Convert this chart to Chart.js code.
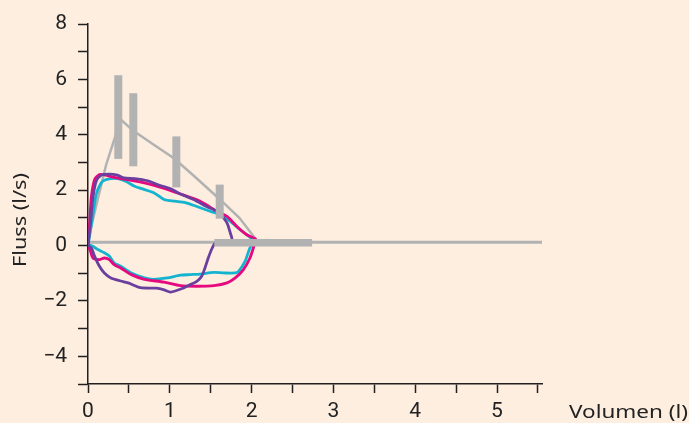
<!DOCTYPE html>
<html>
<head>
<meta charset="utf-8">
<script src="https://cdn.jsdelivr.net/npm/chart.js@4/dist/chart.umd.min.js"></script>
<style>
  html, body { margin: 0; padding: 0; background: #fdeee0; }
  #wrap { width: 689px; height: 423px; }
</style>
</head>
<body>
<div id="wrap"><canvas id="flowChart" width="689" height="423"></canvas></div>
<script>
// axes
const xTickValues = [0, 0.5, 1, 1.5, 2, 2.5, 3, 3.5, 4, 4.5, 5, 5.5];
const xTickLabels = ['0', '', '1', '', '2', '', '3', '', '4', '', '5', ''];
const yTickValues = [-5, -4, -3, -2, -1, 0, 1, 2, 3, 4, 5, 6, 7, 8];
const yTickLabels = ['', '−4', '', '−2', '', '0', '', '2', '', '4', '', '6', '', '8'];
const xTitle = 'Volumen (l)';
const yTitle = 'Fluss (l/s)';

// predicted curve (grey)
const sollX = [0, 0.065, 0.22, 0.4, 0.55, 0.8, 1.05, 1.3, 1.6, 1.85, 2.06];
const sollY = [0.12, 1.0, 2.9, 4.55, 4.15, 3.65, 3.15, 2.5, 1.7, 1.0, 0.2];
const nullX = [0, 5.55];
const nullY = [0.12, 0.12];

// ranges (thick grey bars)
const barX = [0.37, 0.554, 1.08, 1.61];
const barLow = [3.13, 2.86, 2.1, 0.97];
const barHigh = [6.15, 5.5, 3.94, 2.2];
const hBarX = [1.544, 2.74];
const hBarY = 0.1;

// measured loops
const magentaX = [0, 0.02, 0.04, 0.08, 0.14, 0.22, 0.32, 0.48, 0.69, 0.89, 1.13, 1.37, 1.58, 1.7, 1.82, 1.94, 2.05,
  2.03, 1.98, 1.9, 1.8, 1.7, 1.54, 1.33, 1.13, 0.93, 0.69, 0.53, 0.4, 0.32, 0.26, 0.2, 0.14, 0.06, 0.03, 0];
const magentaY = [0, 0.8, 1.72, 2.38, 2.56, 2.54, 2.46, 2.38, 2.26, 2.1, 1.86, 1.6, 1.23, 1.05, 0.69, 0.39, 0.23,
  0, -0.45, -0.87, -1.17, -1.35, -1.45, -1.47, -1.45, -1.32, -1.22, -1.05, -0.81, -0.69, -0.51, -0.45, -0.51, -0.45, -0.2, 0];

const cyanX = [0, 0.06, 0.1, 0.16, 0.22, 0.36, 0.46, 0.57, 0.69, 0.81, 0.93, 1.06, 1.18, 1.33, 1.5, 1.62, 1.74, 1.86, 1.98, 2.02,
  1.98, 1.92, 1.84, 1.8, 1.66, 1.54, 1.37, 1.25, 1.13, 0.97, 0.8, 0.69, 0.53, 0.4, 0.32, 0.26, 0.2, 0.12, 0.04, 0];
const cyanY = [0, 1.11, 1.84, 2.26, 2.38, 2.42, 2.32, 2.14, 2.02, 1.9, 1.66, 1.6, 1.56, 1.41, 1.23, 1.11, 0.87, 0.57, 0.3, 0.1,
  -0.08, -0.57, -0.93, -0.99, -0.99, -0.97, -1.03, -1.05, -1.07, -1.17, -1.22, -1.17, -0.99, -0.75, -0.63, -0.38, -0.26, -0.14, 0, 0];

const purpleX = [0, 0.03, 0.06, 0.1, 0.16, 0.26, 0.36, 0.44, 0.57, 0.73, 0.85, 1.01, 1.13, 1.29, 1.45, 1.58, 1.64, 1.7, 1.74, 1.76, 1.7,
  1.56, 1.52, 1.47, 1.43, 1.39, 1.33, 1.25, 1.17, 1.01, 0.93, 0.84, 0.64, 0.5, 0.4, 0.28, 0.2, 0.14, 0.08, 0.04, 0];
const purpleY = [0, 0.8, 1.72, 2.32, 2.54, 2.58, 2.54, 2.44, 2.42, 2.34, 2.2, 2.05, 1.86, 1.66, 1.41, 1.23, 1.05, 0.81, 0.45, 0.2, 0.05,
  0.1, -0.08, -0.45, -0.81, -1.11, -1.29, -1.41, -1.53, -1.68, -1.6, -1.54, -1.52, -1.36, -1.28, -1.17, -0.99, -0.75, -0.38, -0.08, 0];

const pts = (xs, ys) => xs.map((x, i) => ({ x: x, y: Array.isArray(ys) ? ys[i] : ys }));

const grey = '#b2b2b2';
const datasets = [];

// bars on top
barX.forEach((x, i) => {
    datasets.push({
        data: [{ x: x, y: barLow[i] }, { x: x, y: barHigh[i] }],
        borderColor: grey, borderWidth: 8, borderCapStyle: 'butt', order: 0
    });
});
datasets.push({ data: pts(hBarX, hBarY), borderColor: grey, borderWidth: 7.5, borderCapStyle: 'butt', order: 0 });

datasets.push({ data: pts(purpleX, purpleY), borderColor: '#6a3f9e', borderWidth: 2.8, tension: 0.25, order: 1 });
datasets.push({ data: pts(magentaX, magentaY), borderColor: '#e5087e', borderWidth: 2.8, tension: 0.25, order: 2 });
datasets.push({ data: pts(cyanX, cyanY), borderColor: '#14b3cf', borderWidth: 2.8, tension: 0.25, order: 3 });

datasets.push({ data: pts(sollX, sollY), borderColor: grey, borderWidth: 2.5, order: 4 });
datasets.push({ data: pts(nullX, nullY), borderColor: grey, borderWidth: 3, borderCapStyle: 'butt', order: 4 });

// the titles in the original are a bit wide, so stretch them to the measured length
const titlePlugin = {
    id: 'axisTitles',
    afterDraw(chart) {
        const c = chart.ctx;
        c.save();
        c.fillStyle = '#222';
        c.font = '18.5px "Noto Sans"';
        c.textBaseline = 'alphabetic';
        c.textAlign = 'left';
        let w = c.measureText(xTitle).width;
        c.translate(569, 418);
        c.scale(119 / w, 1);
        c.fillText(xTitle, 0, 0);
        c.restore();

        c.save();
        c.fillStyle = '#222';
        c.font = '18.5px "Noto Sans"';
        c.textBaseline = 'alphabetic';
        c.textAlign = 'center';
        w = c.measureText(yTitle).width;
        c.translate(25.5, 220);
        c.rotate(-Math.PI / 2);
        c.scale(94 / w, 1);
        c.fillText(yTitle, 0, 0);
        c.restore();
    }
};

const ctx = document.getElementById('flowChart').getContext('2d');

new Chart(ctx, {
    type: 'scatter',
    data: { datasets: datasets },
    plugins: [titlePlugin],
    options: {
        responsive: false,
        animation: false,
        showLine: true,
        elements: { point: { radius: 0 }, line: { fill: false } },
        layout: { padding: { top: 24, right: 147, left: 0, bottom: 0 } },
        plugins: {
            legend: { display: false },
            tooltip: { enabled: false },
        },
        scales: {
            x: {
                type: 'linear',
                min: 0,
                max: 5.55,
                afterBuildTicks: (scale) => { scale.ticks = xTickValues.map(v => ({ value: v })); },
                afterFit: (scale) => { scale.height = 39; },
                ticks: {
                    autoSkip: false,
                    maxRotation: 0,
                    padding: 6,
                    color: '#222',
                    font: { family: 'Roboto', size: 21 },
                    callback: (value, index) => xTickLabels[index],
                },
                grid: { drawOnChartArea: false, drawTicks: true, tickLength: 9, color: '#231f20', tickWidth: 1.5 },
                border: { display: true, color: '#231f20', width: 1.5 },
            },
            y: {
                type: 'linear',
                min: -5,
                max: 8,
                afterBuildTicks: (scale) => { scale.ticks = yTickValues.map(v => ({ value: v })); },
                afterFit: (scale) => { scale.width = 88; },
                ticks: {
                    autoSkip: false,
                    padding: 11,
                    color: '#222',
                    font: { family: 'Roboto', size: 21 },
                    callback: (value, index) => yTickLabels[index],
                },
                grid: { drawOnChartArea: false, drawTicks: true, tickLength: 10, color: '#231f20', tickWidth: 1.5 },
                border: { display: true, color: '#231f20', width: 1.5 },
            },
        },
    },
});
</script>
</body>
</html>
